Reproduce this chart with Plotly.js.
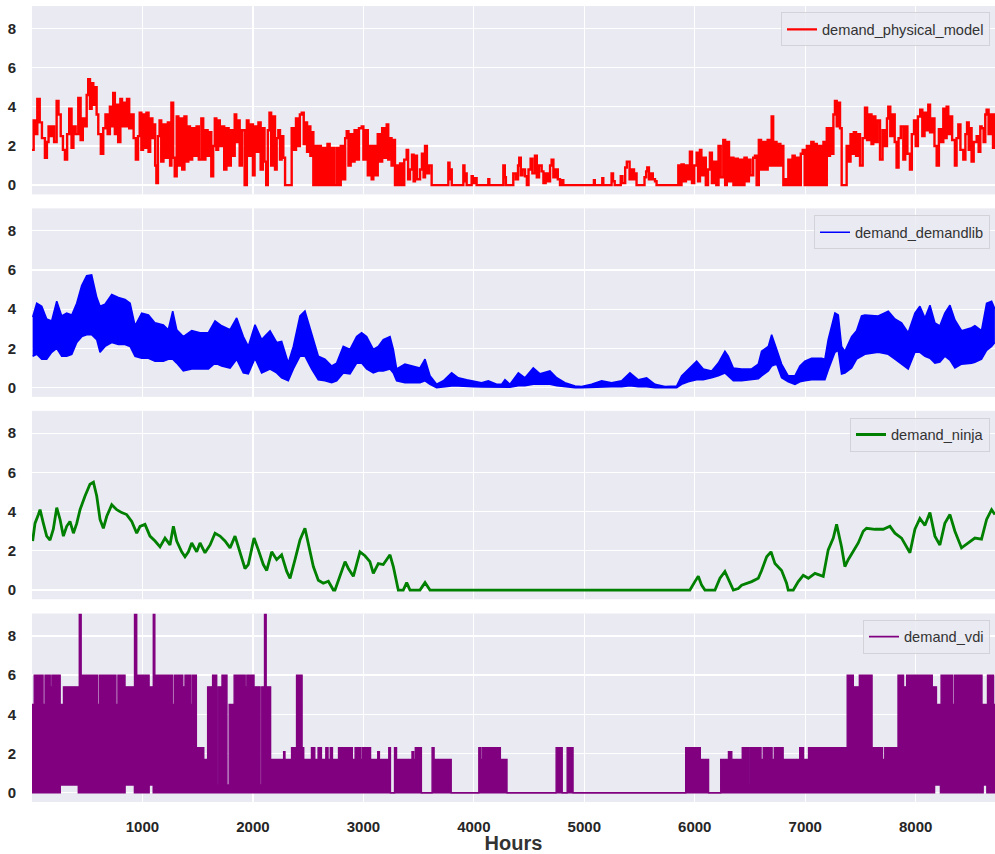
<!DOCTYPE html>
<html>
<head>
<meta charset="utf-8">
<script src="https://cdn.plot.ly/plotly-3.0.1.min.js"></script>
<style>html,body{margin:0;padding:0;background:#fff}#chart{width:995px;height:854px}</style>
</head>
<body>
<div id="chart"></div>
<script>
// ---- data (hour, value) ----
const seriesNames = ["demand_physical_model", "demand_demandlib", "demand_ninja", "demand_vdi"];
const xTickHours = [1000, 2000, 3000, 4000, 5000, 6000, 7000, 8000];
const yTickValues = [0, 2, 4, 6, 8];

const physicalModel = [[0,1.8],[15,3.3],[30,2.6],[48,4.4],[70,3.2],[90,2.4],[117,1.4],[135,2.2],[150,3.0],[163,2.5],[180,3.0],[200,2.2],[223,4.3],[240,3.6],[260,2.5],[280,1.8],[298,1.3],[318,2.6],[337,3.9],[358,1.9],[375,3.0],[395,2.6],[419,4.45],[440,2.3],[460,3.4],[480,3.0],[495,4.6],[509,5.4],[525,3.9],[540,5.2],[555,4.1],[569,5.0],[585,3.6],[600,2.6],[623,1.6],[645,2.9],[665,3.6],[685,2.6],[705,4.0],[720,3.0],[735,4.7],[750,2.6],[765,4.1],[780,2.2],[800,4.4],[815,3.0],[830,4.2],[845,3.0],[860,4.4],[880,2.9],[900,3.6],[920,2.4],[940,1.3],[960,2.5],[975,3.7],[990,1.8],[1005,3.6],[1020,1.9],[1036,3.7],[1055,1.7],[1070,3.4],[1090,2.4],[1105,3.1],[1115,1.0],[1126,0.1],[1140,2.5],[1155,3.3],[1170,1.2],[1190,3.1],[1210,1.4],[1230,3.2],[1250,1.0],[1262,4.2],[1278,1.4],[1292,0.45],[1310,3.5],[1325,1.0],[1345,3.4],[1360,0.8],[1380,3.5],[1398,1.2],[1415,3.0],[1430,1.3],[1450,2.9],[1470,1.5],[1490,3.0],[1510,1.3],[1533,3.4],[1550,1.3],[1570,2.8],[1590,1.5],[1605,2.7],[1623,0.45],[1640,2.0],[1655,3.4],[1669,1.8],[1685,3.3],[1700,2.0],[1720,3.0],[1740,0.8],[1760,2.9],[1780,1.0],[1800,2.8],[1815,1.5],[1835,3.6],[1849,2.2],[1865,3.3],[1880,1.0],[1900,2.8],[1925,0.0],[1945,3.3],[1960,1.5],[1980,3.1],[2000,0.5],[2015,3.0],[2030,1.7],[2050,3.2],[2070,0.8],[2090,2.9],[2105,1.2],[2120,0.0],[2135,2.8],[2150,3.7],[2165,1.0],[2180,3.5],[2200,0.8],[2215,2.4],[2230,2.8],[2245,1.3],[2260,2.5],[2275,1.4],[2291,0.0],[2336,0.0],[2351,2.9],[2370,1.8],[2390,3.4],[2405,2.0],[2425,3.6],[2442,3.7],[2460,2.1],[2475,3.2],[2490,1.7],[2505,3.0],[2520,1.5],[2532,2.7],[2547,0.0],[2565,2.0],[2580,0.0],[2600,2.0],[2615,0.0],[2635,1.9],[2655,0.0],[2675,2.1],[2695,0.0],[2715,1.9],[2735,0.0],[2758,1.9],[2775,0.0],[2795,2.0],[2815,0.3],[2835,2.4],[2849,2.75],[2865,1.0],[2885,2.6],[2900,1.2],[2920,2.8],[2940,1.3],[2960,2.9],[2985,3.0],[3000,1.3],[3020,2.8],[3040,0.5],[3060,2.0],[3075,0.3],[3090,2.0],[3110,0.5],[3130,2.6],[3150,1.2],[3170,2.9],[3190,1.4],[3211,3.1],[3225,1.3],[3240,2.4],[3255,1.0],[3271,2.3],[3286,0.0],[3300,1.0],[3315,0.0],[3332,1.1],[3350,0.0],[3370,1.3],[3392,1.8],[3405,0.3],[3422,0.8],[3440,1.55],[3455,0.2],[3467,1.5],[3485,0.3],[3513,0.8],[3530,1.6],[3545,0.4],[3558,2.0],[3575,0.6],[3595,1.0],[3618,0.0],[3760,0.0],[3769,1.15],[3780,0.3],[3790,0.8],[3800,0.0],[3890,0.0],[3905,1.0],[3915,0.2],[3925,0.6],[3935,0.0],[3975,0.0],[3980,0.45],[3990,0.1],[4010,0.35],[4025,0.0],[4120,0.0],[4131,0.3],[4140,0.0],[4255,0.0],[4267,1.0],[4280,0.4],[4290,0.0],[4345,0.0],[4357,0.6],[4380,0.3],[4400,1.0],[4411,1.4],[4425,0.5],[4440,0.8],[4463,0.45],[4480,0.0],[4495,0.8],[4514,1.35],[4530,0.6],[4553,1.5],[4570,0.4],[4590,1.0],[4614,0.7],[4630,0.1],[4650,0.6],[4670,0.2],[4690,1.0],[4704,1.3],[4720,0.4],[4740,0.8],[4760,0.3],[4780,0.0],[4801,0.25],[4810,0.0],[5080,0.0],[5087,0.25],[5095,0.0],[5155,0.0],[5163,0.35],[5172,0.0],[5235,0.0],[5247,0.6],[5260,0.2],[5275,0.0],[5320,0.0],[5330,0.45],[5345,0.1],[5370,0.9],[5385,1.2],[5398,1.2],[5410,0.3],[5430,0.8],[5450,0.3],[5465,0.6],[5473,0.0],[5530,0.0],[5545,0.4],[5560,0.7],[5570,0.9],[5585,0.3],[5600,0.6],[5620,0.3],[5640,0.2],[5654,0.0],[5836,0.0],[5851,1.0],[5865,0.0],[5880,1.05],[5900,0.2],[5920,1.0],[5940,0.3],[5956,1.7],[5975,0.1],[5995,1.0],[6017,1.65],[6030,0.2],[6047,1.8],[6060,0.5],[6080,1.4],[6100,0.0],[6120,0.8],[6137,1.65],[6155,0.1],[6175,1.2],[6195,0.0],[6215,2.0],[6235,0.4],[6258,2.3],[6275,0.0],[6290,2.2],[6310,0.2],[6330,1.4],[6350,0.0],[6370,1.35],[6390,0.0],[6410,1.3],[6430,0.0],[6450,1.4],[6470,0.2],[6490,1.3],[6505,0.5],[6529,1.4],[6545,1.5],[6560,0.0],[6580,2.3],[6600,0.8],[6621,2.2],[6640,0.8],[6660,2.3],[6680,1.0],[6696,3.5],[6710,1.0],[6725,2.2],[6740,1.0],[6756,2.1],[6775,1.0],[6790,2.0],[6802,0.0],[6820,0.3],[6835,0.0],[6847,1.3],[6865,0.0],[6885,1.5],[6905,0.0],[6925,1.4],[6945,0.0],[6960,1.6],[6977,1.8],[6995,0.0],[7015,2.0],[7035,0.0],[7055,2.2],[7075,0.0],[7088,2.1],[7105,0.0],[7125,2.0],[7145,0.0],[7165,2.2],[7179,0.0],[7195,2.9],[7210,1.5],[7224,2.9],[7240,1.6],[7255,3.6],[7269,4.3],[7285,3.0],[7300,4.2],[7315,2.9],[7330,0.0],[7350,0.0],[7375,2.0],[7390,1.2],[7410,2.6],[7425,1.6],[7440,2.7],[7460,1.5],[7480,2.6],[7496,1.0],[7520,2.4],[7541,3.95],[7560,2.3],[7580,3.6],[7600,2.1],[7616,3.5],[7635,2.2],[7655,3.3],[7677,1.3],[7700,2.8],[7720,2.0],[7740,3.4],[7752,4.0],[7770,2.5],[7790,3.6],[7810,2.2],[7827,0.9],[7845,2.4],[7865,3.0],[7888,1.3],[7905,3.0],[7925,1.6],[7948,0.8],[7965,2.6],[7985,3.3],[8000,2.0],[8020,3.5],[8041,3.85],[8060,2.5],[8080,3.7],[8100,2.8],[8114,4.1],[8130,2.7],[8150,3.4],[8170,2.0],[8190,1.0],[8210,2.85],[8230,2.2],[8250,3.9],[8265,2.4],[8280,4.0],[8295,2.6],[8310,3.5],[8330,2.3],[8355,1.0],[8370,2.4],[8386,3.1],[8405,1.8],[8431,1.3],[8450,2.6],[8465,3.2],[8480,1.8],[8495,2.9],[8506,1.2],[8525,2.2],[8552,2.5],[8570,1.7],[8585,3.0],[8597,2.9],[8615,2.2],[8630,3.6],[8642,3.85],[8660,2.6],[8680,3.6],[8700,1.9],[8717,3.6],[8759,3.0]];

// demandlib: [hour, daily upper envelope, daily lower envelope]
const demandlib = [[6,3.6,1.6],[43,4.3,1.7],[88,4.15,1.45],[133,3.5,1.45],[178,3.4,1.8],[224,4.4,2.0],[269,3.65,1.6],[314,3.8,1.6],[360,3.7,1.7],[405,4.3,2.3],[450,5.2,2.6],[495,5.7,2.7],[540,5.75,2.7],[586,4.6,2.45],[616,4.15,1.8],[661,4.25,2.1],[722,4.75,2.3],[782,4.6,2.2],[842,4.5,2.2],[888,4.3,2.1],[933,3.15,1.6],[993,3.8,1.5],[1054,3.7,1.5],[1114,3.3,1.35],[1189,3.2,1.35],[1234,2.95,1.45],[1274,3.9,1.45],[1310,2.95,1.25],[1370,2.6,0.85],[1446,2.9,0.95],[1521,2.8,0.95],[1597,2.8,0.95],[1657,3.4,1.25],[1717,3.15,1.1],[1793,2.95,1.0],[1853,3.55,1.45],[1913,2.6,0.75],[1958,2.1,0.7],[2019,3.2,1.5],[2079,2.45,0.75],[2155,2.9,0.95],[2215,2.3,0.75],[2260,2.35,0.5],[2320,1.25,0.35],[2366,2.1,0.95],[2426,3.65,1.6],[2471,3.9,1.6],[2532,2.8,0.95],[2592,1.6,0.4],[2652,1.45,0.35],[2713,1.1,0.25],[2758,1.25,0.35],[2818,2.1,0.75],[2879,1.95,0.7],[2939,2.6,1.25],[2984,2.8,1.25],[3029,2.6,0.95],[3090,1.95,0.75],[3135,2.1,0.85],[3180,2.45,0.85],[3241,2.6,0.95],[3271,1.95,0.75],[3301,0.95,0.35],[3376,1.2,0.25],[3452,1.1,0.25],[3512,1.0,0.25],[3558,1.45,0.35],[3603,0.6,0.17],[3663,0.17,0.0],[3724,0.35,0.05],[3799,0.75,0.08],[3859,0.5,0.08],[3935,0.4,0.08],[3995,0.35,0.05],[4070,0.25,0.03],[4131,0.35,0.03],[4206,0.17,0.0],[4252,0.17,0.0],[4282,0.4,0.02],[4327,0.17,0.02],[4403,0.75,0.1],[4463,0.5,0.1],[4538,1.0,0.17],[4599,0.7,0.17],[4689,0.85,0.17],[4750,0.5,0.1],[4825,0.25,0.05],[4916,0.08,0.0],[4976,0.05,0.0],[5066,0.17,0.02],[5157,0.35,0.05],[5247,0.25,0.05],[5338,0.35,0.05],[5413,0.75,0.1],[5489,0.4,0.05],[5564,0.5,0.05],[5640,0.17,0.0],[5730,0.05,0.0],[5836,0.08,0.0],[5881,0.6,0.17],[5941,0.95,0.3],[6017,1.35,0.4],[6077,0.95,0.4],[6153,0.85,0.5],[6213,1.25,0.6],[6273,1.85,0.75],[6303,1.6,0.6],[6349,1.0,0.35],[6424,0.95,0.35],[6515,0.95,0.4],[6575,1.2,0.45],[6605,1.85,0.6],[6666,2.1,0.85],[6696,2.7,1.1],[6741,1.95,1.2],[6786,1.2,0.5],[6846,0.6,0.3],[6907,0.6,0.17],[6952,1.1,0.3],[6997,1.35,0.35],[7058,1.5,0.4],[7148,1.5,0.4],[7178,1.45,0.4],[7208,2.45,0.9],[7269,3.8,1.8],[7299,3.7,1.9],[7329,2.1,0.7],[7359,1.85,0.75],[7420,2.6,1.0],[7465,2.9,1.45],[7510,3.65,1.6],[7540,3.7,1.7],[7661,3.65,1.8],[7752,3.9,1.7],[7812,3.5,1.45],[7872,3.3,1.2],[7932,2.8,0.95],[7993,3.8,1.8],[8038,4.15,1.8],[8084,3.55,1.6],[8129,4.2,1.5],[8174,3.3,1.25],[8219,3.15,1.3],[8264,3.8,1.6],[8310,4.2,1.4],[8355,3.45,1.0],[8415,2.9,1.2],[8506,3.05,1.25],[8536,3.15,1.3],[8596,2.9,1.45],[8642,4.3,1.9],[8687,4.4,2.1],[8717,4.0,2.3]];

const ninja = [[6,2.5],[27,3.4],[58,3.85],[73,4.1],[103,3.4],[133,2.75],[163,2.55],[193,3.1],[224,4.2],[254,3.6],[284,2.75],[314,3.25],[344,3.5],[375,2.9],[405,3.4],[435,4.1],[480,4.8],[525,5.4],[556,5.5],[586,4.8],[616,3.6],[646,3.15],[676,3.75],[722,4.35],[767,4.1],[812,3.95],[857,3.85],[903,3.5],[948,2.9],[978,3.25],[1023,3.35],[1068,2.75],[1114,2.5],[1159,2.2],[1204,2.65],[1249,2.3],[1280,3.25],[1310,2.5],[1355,1.95],[1385,1.7],[1416,1.95],[1446,2.4],[1491,1.95],[1521,2.4],[1566,1.9],[1612,2.3],[1657,2.9],[1702,2.75],[1747,2.5],[1793,2.15],[1838,2.75],[1883,1.95],[1928,1.1],[1958,1.3],[2010,2.65],[2049,2.05],[2094,1.3],[2125,1.0],[2170,1.95],[2215,1.55],[2260,1.8],[2306,0.95],[2336,0.6],[2381,1.55],[2426,2.55],[2471,3.15],[2502,2.4],[2547,1.2],[2592,0.5],[2637,0.35],[2683,0.45],[2728,0.0],[2743,0.0],[2788,0.7],[2834,1.45],[2864,1.1],[2909,0.7],[2969,1.95],[3014,1.75],[3059,1.45],[3090,0.85],[3135,1.35],[3180,1.3],[3241,1.8],[3271,1.2],[3316,0.0],[3361,0.0],[3392,0.38],[3422,0.0],[3512,0.0],[3558,0.38],[3603,0.0],[5956,0.0],[6001,0.43],[6032,0.7],[6062,0.25],[6092,0.0],[6183,0.0],[6228,0.6],[6273,0.95],[6318,0.43],[6349,0.0],[6394,0.08],[6424,0.25],[6515,0.43],[6575,0.6],[6605,1.0],[6651,1.7],[6690,1.95],[6726,1.35],[6786,1.0],[6831,0.35],[6846,0.0],[6892,0.0],[6937,0.43],[6982,0.75],[7028,0.6],[7088,0.85],[7163,0.7],[7208,2.05],[7254,2.65],[7284,3.35],[7329,2.2],[7359,1.2],[7389,1.55],[7435,1.95],[7480,2.4],[7525,3.0],[7555,3.15],[7631,3.1],[7706,3.1],[7767,3.25],[7812,2.9],[7872,2.65],[7948,1.9],[7993,3.1],[8038,3.65],[8084,3.3],[8129,3.95],[8174,2.75],[8219,2.3],[8264,3.4],[8310,3.85],[8355,3.0],[8415,2.15],[8476,2.4],[8536,2.65],[8596,2.6],[8642,3.6],[8687,4.1],[8717,3.85]];

// vdi: step levels of the hourly on/off profile (upper) and its floor (lower)
const vdiUpper = [[0,4.5],[20,6.0],[100,4.5],[118,6.0],[165,5.4],[180,6.0],[255,4.5],[285,5.4],[428,9.1],[445,6.0],[595,4.5],[612,6.0],[760,4.5],[778,6.0],[842,5.4],[928,9.1],[948,6.0],[1060,5.4],[1098,9.1],[1112,6.0],[1275,4.5],[1292,6.0],[1365,5.4],[1385,6.0],[1440,4.5],[1455,6.0],[1488,2.3],[1555,1.7],[1582,0.4],[1590,5.4],[1635,6.0],[1672,0.4],[1685,5.4],[1720,6.0],[1765,0.4],[1785,4.5],[1830,6.0],[1930,5.4],[1945,6.0],[2010,5.4],[2065,0.4],[2080,5.4],[2105,9.1],[2120,5.4],[2160,1.7],[2278,2.1],[2290,1.7],[2350,2.3],[2395,6.0],[2445,2.3],[2460,1.7],[2530,2.3],[2560,1.7],[2590,2.3],[2620,1.7],[2660,2.3],[2680,1.7],[2700,2.3],[2720,1.7],[2775,2.3],[2900,1.7],[2925,2.3],[2975,1.7],[2990,2.3],[3065,1.7],[3130,2.1],[3145,1.7],[3230,2.3],[3245,0],[3282,2.3],[3300,1.7],[3440,2.1],[3455,1.7],[3470,2.3],[3525,0],[3622,2.3],[3640,1.7],[3795,0],[4045,2.3],[4060,1.7],[4075,2.3],[4240,1.7],[4300,0],[4745,2.3],[4800,0],[4845,2.3],[4898,0],[5918,2.3],[6050,1.7],[6125,0],[6235,1.7],[6305,2.1],[6335,1.7],[6430,2.3],[6485,0.4],[6498,2.3],[6600,1.7],[6620,2.3],[6700,1.7],[6720,2.3],[6800,1.7],[6950,2.3],[6985,1.7],[7030,2.3],[7380,6.0],[7435,5.4],[7490,6.0],[7605,2.3],[7700,1.7],[7720,2.3],[7840,6.0],[7890,5.4],[7918,6.0],[8150,5.4],[8188,4.5],[8230,6.0],[8335,4.5],[8352,6.0],[8600,4.5],[8650,6.0],[8705,4.5],[8759,4.5]];
const vdiLower = [[0,0],[255,0.4],[420,0],[842,0.4],[928,0],[1060,0.4],[1098,0],[8170,0.4],[8225,0],[8610,0.4],[8645,0],[8759,0]];

// ---- build ----
const col = p => p.map(r => r[0]);
const val = (p, i) => p.map(r => r[i]);

const traces = [
  {x: col(physicalModel), y: val(physicalModel,1), type:'scatter', mode:'lines', name: seriesNames[0],
   line:{color:'#ff0000', width:2.4, shape:'hv'}, xaxis:'x', yaxis:'y', legend:'legend'},
  {x: col(demandlib), y: val(demandlib,2), type:'scatter', mode:'lines', name: seriesNames[1],
   line:{color:'#0000ff', width:1.6}, xaxis:'x2', yaxis:'y2', legend:'legend2'},
  {x: col(demandlib), y: val(demandlib,1), type:'scatter', mode:'lines', name: seriesNames[1], showlegend:false,
   line:{color:'#0000ff', width:1.6}, fill:'tonexty', fillcolor:'#0000ff', xaxis:'x2', yaxis:'y2'},
  {x: col(ninja), y: val(ninja,1), type:'scatter', mode:'lines', name: seriesNames[2],
   line:{color:'#008000', width:2.8}, xaxis:'x3', yaxis:'y3', legend:'legend3'},
  {x: col(vdiLower), y: val(vdiLower,1), type:'scatter', mode:'lines', name: seriesNames[3],
   line:{color:'#800080', width:1.6, shape:'hv'}, xaxis:'x4', yaxis:'y4', legend:'legend4'},
  {x: col(vdiUpper), y: val(vdiUpper,1), type:'scatter', mode:'lines', name: seriesNames[3], showlegend:false,
   line:{color:'#800080', width:1.4, shape:'hv'}, fill:'tonexty', fillcolor:'#800080', xaxis:'x4', yaxis:'y4'}
];

const tickFont = {family:'"Liberation Sans", Arial, sans-serif', size:15, color:'#262626', weight:'bold'};
const domains = [[0.7634,1],[0.5090,0.7458],[0.2547,0.4914],[0,0.2368]];
const layout = {
  width:995, height:854,
  margin:{l:32, r:0, t:6, b:52},
  paper_bgcolor:'#ffffff', plot_bgcolor:'#eaeaf2',
  showlegend:true,
  font:{family:'"Liberation Sans", Arial, sans-serif', color:'#262626'}
};
const legendYs = [0.992, 0.7372, 0.483, 0.2291];
['', '2', '3', '4'].forEach((s, i) => {
  layout['xaxis' + s] = {
    domain:[0,1], range:[0, 8718], tickvals:xTickHours, ticktext:xTickHours.map(String),
    showgrid:true, gridcolor:'#ffffff', gridwidth:1.3, zeroline:false, showline:false,
    showticklabels: i === 3, ticks: i === 3 ? 'outside' : '', ticklen:11, tickcolor:'rgba(0,0,0,0)',
    tickfont:tickFont, anchor:'y' + s, matches: i === 0 ? undefined : 'x'
  };
  layout['yaxis' + s] = {
    domain:domains[i], range:[-0.47, 9.14], tickvals:yTickValues, ticktext:yTickValues.map(String),
    showgrid:true, gridcolor:'#ffffff', gridwidth:1.3, zeroline:false, showline:false,
    ticks:'outside', ticklen:12, tickcolor:'rgba(0,0,0,0)', tickfont:tickFont, anchor:'x' + s
  };
  layout['legend' + s] = {
    x:0.9948, xanchor:'right', y:legendYs[i], yanchor:'top',
    bgcolor:'rgba(234,234,242,0.85)', bordercolor:'#d2d2d8', borderwidth:1,
    font:{family:'"Liberation Sans", Arial, sans-serif', size:14.6, color:'#333333'}
  };
});
layout.xaxis4.title = {text:'Hours', font:{family:'"Liberation Sans", Arial, sans-serif', size:20, color:'#333333', weight:'bold'}, standoff:6};

Plotly.newPlot('chart', traces, layout, {displayModeBar:false, staticPlot:true});
</script>
</body>
</html>
